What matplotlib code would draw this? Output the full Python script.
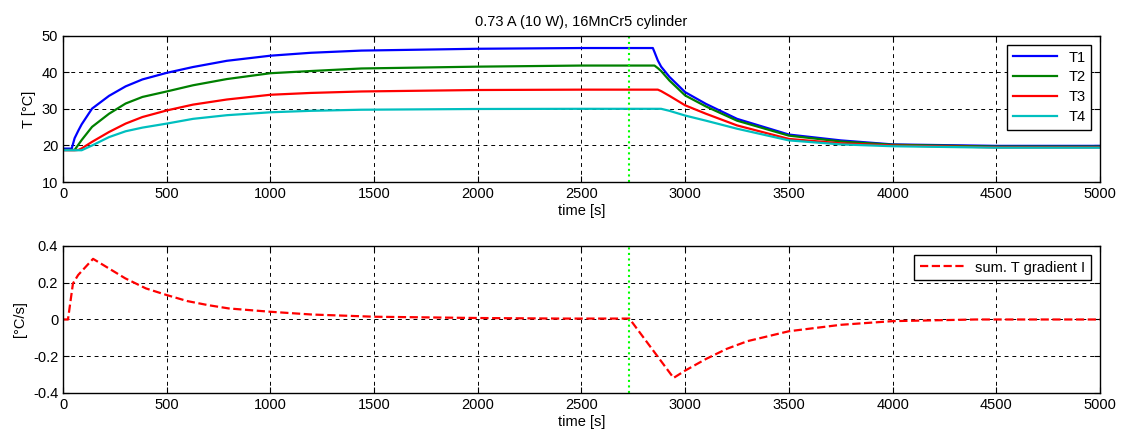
import numpy as np
import matplotlib.pyplot as plt

plt.rcParams['font.family'] = ['Liberation Sans', 'DejaVu Sans']

# temperatures
t_T = [0, 42, 56, 75, 90, 140, 222, 302, 383, 500, 627, 790, 1000, 1195, 1439, 2000,
       2500, 2844, 2852, 2868, 2884, 2924, 3000, 3100, 3250, 3500, 3750, 4000, 4500, 5000]
T1 = [19.15, 19.15, 22.0, 24.2, 25.8, 30.1, 33.6, 36.2, 38.1, 39.9, 41.5, 43.2, 44.6, 45.4,
      46.0, 46.5, 46.7, 46.7, 45.6, 43.3, 41.6, 38.8, 34.6, 31.4, 27.3, 23.0, 21.4, 20.3,
      19.9, 19.9]
T2 = [18.8, 18.8, 18.8, 20.3, 21.5, 25.1, 28.7, 31.5, 33.3, 34.8, 36.5, 38.2, 39.8, 40.4,
      41.1, 41.6, 41.9, 41.9, 41.9, 41.2, 40.4, 37.8, 33.7, 30.7, 26.8, 22.7, 21.1, 20.2,
      19.7, 19.7]
T3 = [18.7, 18.7, 18.7, 18.8, 19.2, 21.0, 23.7, 26.0, 27.8, 29.6, 31.2, 32.6, 33.9, 34.4,
      34.8, 35.2, 35.3, 35.3, 35.3, 35.3, 34.9, 33.6, 31.0, 28.7, 25.5, 21.8, 20.6, 20.0,
      19.5, 19.5]
T4 = [18.7, 18.7, 18.7, 18.7, 18.7, 20.0, 22.3, 23.9, 24.9, 26.0, 27.3, 28.3, 29.1, 29.5,
      29.8, 30.0, 30.05, 30.05, 30.05, 30.05, 30.05, 29.5, 28.2, 26.8, 24.6, 21.4, 20.3,
      19.8, 19.4, 19.4]

# summed gradient
t_g = [0, 24, 48, 73, 145, 300, 400, 500, 600, 700, 800, 1000, 1200, 1500, 2000, 2400,
       2731, 2944, 3000, 3100, 3200, 3300, 3500, 3750, 4000, 4400, 5000]
grad = [0.0, 0.0, 0.196, 0.242, 0.33, 0.224, 0.169, 0.133, 0.10, 0.078, 0.06, 0.042, 0.027,
        0.015, 0.008, 0.005, 0.005, -0.318, -0.278, -0.215, -0.16, -0.118, -0.064, -0.029,
        -0.009, 0.0, 0.0]

t_mark = 2731

fig = plt.figure(figsize=(11.23, 4.32), dpi=100)
ax1 = fig.add_axes([0.0561, 0.5787, 0.9234, 0.338])
ax2 = fig.add_axes([0.0561, 0.0903, 0.9234, 0.3403])


def style(ax):
    ax.set_xlim(0, 5000)
    ax.set_xticks(range(0, 5001, 500))
    ax.grid(True, color='black', linestyle=(0, (4, 4)), linewidth=0.7)
    ax.tick_params(direction='in', top=True, right=True, labelsize=10.5, length=4)
    for s in ax.spines.values():
        s.set_linewidth(1.0)
    ax.set_xlabel('time [s]', fontsize=10.5, labelpad=2)


ax1.plot(t_T, T1, color='#0000ff', lw=1.6, label='T1')
ax1.plot(t_T, T2, color='#008000', lw=1.6, label='T2')
ax1.plot(t_T, T3, color='#ff0000', lw=1.6, label='T3')
ax1.plot(t_T, T4, color='#00bfbf', lw=1.6, label='T4')
ax1.axvline(t_mark, color='#00ff00', linestyle=':', lw=1.5)
ax1.set_ylim(10, 50)
ax1.set_yticks([10, 20, 30, 40, 50])
ax1.set_ylabel('T [°C]', fontsize=10.5)
ax1.set_title('0.73 A (10 W), 16MnCr5 cylinder', fontsize=10.5, pad=7)
style(ax1)
ax1.legend(loc='upper right', fontsize=10.5, fancybox=False, edgecolor='black',
           framealpha=1, handlelength=3.0, borderaxespad=0.6, labelspacing=0.4)

ax2.plot(t_g, grad, color='#ff0000', lw=1.6, linestyle='--', label='sum. T gradient I')
ax2.axvline(t_mark, color='#00ff00', linestyle=':', lw=1.5)
ax2.set_ylim(-0.4, 0.4)
ax2.set_yticks([-0.4, -0.2, 0, 0.2, 0.4])
ax2.set_yticklabels(['-0.4', '-0.2', '0', '0.2', '0.4'])
ax2.set_ylabel('[°C/s]', fontsize=10.5)
style(ax2)
ax2.legend(loc='upper right', fontsize=10.5, fancybox=False, edgecolor='black',
           framealpha=1, handlelength=3.0, borderaxespad=0.6)

fig.savefig('out.png')
